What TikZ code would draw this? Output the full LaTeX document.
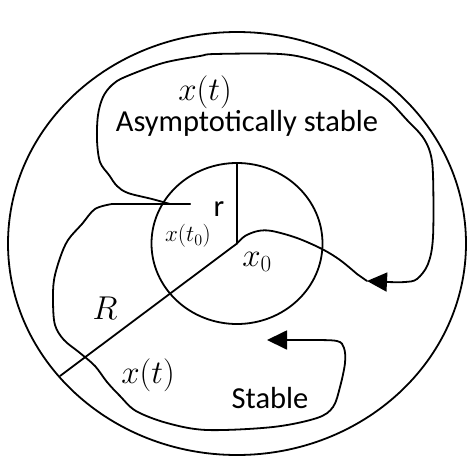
\documentclass[tikz,border=0pt]{standalone}
\usepackage{fix-cm}
\usepackage{fontspec}
\newfontfamily\carlito{Carlito}
\usetikzlibrary{arrows.meta}
\begin{document}
\begin{tikzpicture}[x=1pt,y=-1pt,
  curve/.style={line width=1.8pt, line join=round, line cap=round},
  trajarrow/.style={-{Triangle[length=20pt,width=19pt]}},
  sanslab/.style={font=\carlito\fontsize{30.5}{35}\selectfont, inner sep=0pt},
  mathlab/.style={font=\fontsize{33}{38}\selectfont, inner sep=0pt},
  smalllab/.style={font=\fontsize{23}{27}\selectfont, inner sep=0pt}]
\useasboundingbox (0,0) rectangle (474,474);
% centre and points
\coordinate (x0) at (237,243.5);
\coordinate (xt0) at (190,204);
\coordinate (rtop) at (237,163);
\coordinate (Rend) at (60,376);
\coordinate (tipA) at (367,281);
\coordinate (tipB) at (267,340);
% circles
\draw[curve] (x0) ellipse [x radius=229, y radius=211.5];
\draw[curve] (x0) ellipse [x radius=85.5, y radius=80.5];
% radii
\draw[curve] (x0) -- (rtop);
\draw[curve] (x0) -- (Rend);
% asymptotically stable trajectory
\draw[curve, trajarrow] (xt0) -- (170,204) -- plot[smooth, tension=0.55] coordinates {
 (170,204) (152,199) (128,193) (117,186) (109,175) (100,162) (97,140) (98,115) (103,97)
 (112,85) (125,77) (163,63) (200,56) (215,54) (280,54) (313,60) (345,72) (370,87)
 (390,102) (407,120) (422,136) (430,152) (433,175) (433,237) (428,264) (417,279)
 (405,282) (387,282)} -- (tipA);
\draw[curve] (x0) -- plot[smooth, tension=0.55] coordinates {
 (237,243.5) (245,236) (258,231) (272,231) (297,238) (322,249) (340,260) (357,274)} -- (tipA);
% stable trajectory
\draw[curve, trajarrow] (xt0) -- (112,204) -- plot[smooth, tension=0.55] coordinates {
 (112,204) (95,209) (82,224) (68,240) (60,258) (54,280) (53,302) (55,325) (64,340)
 (80,353) (95,366) (107,382) (120,396) (136,411) (167,423) (207,430) (273,427)
 (317,418) (333,407) (340,387) (345,363) (344,348) (337,341) (310,340) (287,340)} -- (tipB);
% labels
\node[mathlab] (lxt1) at (205,92) {$x(t)$};
\node[sanslab] (lasym) at (247,123) {Asymptotically stable};
\node[sanslab] (lr) at (219,209) {r};
\node[smalllab] (lxt0) at (188,236) {$x(t_0)$};
\node[mathlab] (lx0) at (257,262) {$x_0$};
\node[mathlab] (lR) at (105,308) {$R$};
\node[mathlab] (lxt2) at (148,375) {$x(t)$};
\node[sanslab] (lstable) at (270,398) {Stable};
\end{tikzpicture}
\end{document}
